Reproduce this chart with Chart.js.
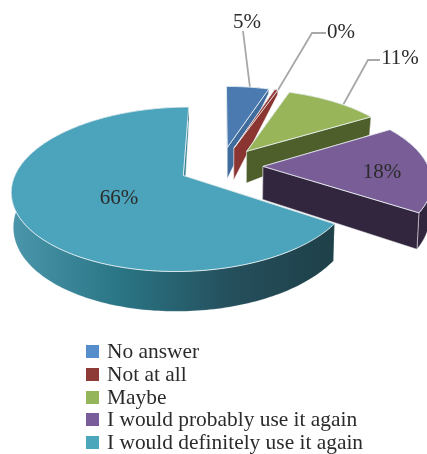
<!DOCTYPE html>
<html>
<head>
<meta charset="utf-8">
<title>Pie</title>
<script src="https://cdn.jsdelivr.net/npm/chart.js@4/dist/chart.umd.min.js"></script>
<style>
  html, body { margin: 0; background: #fff; }
  #wrap { position: relative; width: 427px; height: 454px; overflow: hidden; }
  #legend { position: absolute; left: 86px; top: 340px; margin: 0; padding: 0; list-style: none;
    font: 21.4px/22.8px "Liberation Serif", serif; color: #2b2b2b; white-space: nowrap; }
  #legend li { position: relative; padding-left: 21px; height: 22.8px; }
  #legend i { position: absolute; left: 0; top: 5px; width: 13px; height: 13px; }
</style>
</head>
<body>
<div id="wrap">
  <canvas id="pie" width="427" height="454"></canvas>
  <ul id="legend"></ul>
</div>
<script>
const categories = ['No answer', 'Not at all', 'Maybe', 'I would probably use it again', 'I would definitely use it again'];
// "Not at all" is labelled 0% but drawn as a thin sliver
const values = [5, 0.4, 11, 18, 66];
const topColors = ['#4a7ab0', '#953a37', '#98b55a', '#795d97', '#4ba4bb'];
const sideColors = ['#3f6c9c', '#8a3532', '#4f5f2b', '#32263f', '#1f4650'];
const legendColors = ['#568ecb', '#8e3a37', '#95b55b', '#795d9b', '#4ba5bb'];
const tealRimStops = [[0, '#4b96ab'], [0.33, '#2a7686'], [0.68, '#254f5c'], [1, '#1e4049']];

// camera for the tilted pie
const centerY = 166, tilt = 0.465, persp = 0.001;

function drop(y) {
  // depth of the pie seen on screen, shrinks to the back
  if (y <= 40) return 33 - 0.037 * y;
  return Math.max(5, 31.5 - 0.17 * (y - 40));
}

function project(cx, x, y, bottom) {
  const p = 1 / (1 + persp * y);
  let sx = cx + x * p;
  let sy = centerY - tilt * y * p;
  if (bottom) {
    sx = cx + (sx - cx) * 0.99;
    sy += drop(y);
  }
  return [sx, sy];
}

function slicePts(el, from, to, bottom) {
  const mid = (el.startAngle + el.endAngle) / 2 + Math.PI / 2;
  const ox = Math.sin(mid) * el.options.offset, oy = Math.cos(mid) * el.options.offset;
  const pts = [];
  const steps = Math.max(2, Math.ceil(Math.abs(to - from) / 0.02));
  for (let i = 0; i <= steps; i++) {
    const t = from + (to - from) * i / steps + Math.PI / 2;
    pts.push(project(el.x, ox + Math.sin(t) * el.outerRadius, oy + Math.cos(t) * el.outerRadius, bottom));
  }
  return pts;
}

function apex(el, bottom) {
  const mid = (el.startAngle + el.endAngle) / 2 + Math.PI / 2;
  return project(el.x, Math.sin(mid) * el.options.offset, Math.cos(mid) * el.options.offset, bottom);
}

function fillPoly(ctx, pts, fill, edge) {
  ctx.beginPath();
  pts.forEach((p, i) => i ? ctx.lineTo(p[0], p[1]) : ctx.moveTo(p[0], p[1]));
  ctx.closePath();
  ctx.fillStyle = fill;
  ctx.fill();
  ctx.strokeStyle = edge;
  ctx.lineWidth = 1;
  ctx.stroke();
}

// label text plus the leader that runs to the rim of its slice
function leader(ctx, el, bend, endFrac) {
  const a = el.startAngle + (el.endAngle - el.startAngle) * endFrac;
  const rim = slicePts(el, a, a, false)[0];
  ctx.beginPath();
  bend.forEach((p, i) => i ? ctx.lineTo(p[0], p[1]) : ctx.moveTo(p[0], p[1]));
  ctx.lineTo(rim[0], rim[1]);
  ctx.strokeStyle = '#a8a8a8';
  ctx.lineWidth = 1.8;
  ctx.stroke();
}

const labelSpots = [[247, 22], [341, 32], [400, 58], [382, 172], [119, 198]];

const pie3d = {
  id: 'pie3d',
  beforeDatasetsDraw(chart) {
    const ctx = chart.ctx;
    const arcs = chart.getDatasetMeta(0).data;

    leader(ctx, arcs[0], [[243, 31]], 0.55);
    leader(ctx, arcs[1], [[326, 33], [312, 33]], 1);
    leader(ctx, arcs[2], [[380, 60], [368, 60]], 0.62);

    arcs.forEach((el, i) => {
      const s = el.startAngle, e = el.endAngle;
      const a0 = apex(el, false), a1 = apex(el, true);
      const top0 = slicePts(el, s, s, false)[0], bot0 = slicePts(el, s, s, true)[0];
      const top1 = slicePts(el, e, e, false)[0], bot1 = slicePts(el, e, e, true)[0];
      const wallEdge = 'rgba(255,255,255,0.45)';

      let rimFill = sideColors[i];
      if (i === 4) {
        rimFill = ctx.createLinearGradient(11, 0, 334, 0);
        tealRimStops.forEach(st => rimFill.addColorStop(st[0], st[1]));
      }
      const rim = slicePts(el, s, e, false).concat(slicePts(el, s, e, true).reverse());
      const drawWalls = () => {
        fillPoly(ctx, [a0, top0, bot0, a1], sideColors[i], wallEdge);
        fillPoly(ctx, [a0, top1, bot1, a1], i === 4 ? '#3f8297' : sideColors[i], wallEdge);
      };
      // the big slice shows its rim in front of its cuts, the small ones the other way round
      if (i === 4) drawWalls();
      fillPoly(ctx, rim, rimFill, i === 4 ? 'rgba(255,255,255,0.15)' : wallEdge);
      if (i !== 4) drawWalls();

      fillPoly(ctx, [a0].concat(slicePts(el, s, e, false)), topColors[i], 'rgba(235,242,245,0.85)');
    });

    ctx.fillStyle = '#2b2b2b';
    ctx.font = '21px "Liberation Serif", serif';
    ctx.textAlign = 'center';
    ctx.textBaseline = 'middle';
    values.forEach((v, i) => {
      ctx.fillText(Math.round(v) + '%', labelSpots[i][0], labelSpots[i][1]);
    });
    return false;
  }
};

new Chart(document.getElementById('pie'), {
  type: 'pie',
  data: {
    labels: categories,
    datasets: [{ data: values, backgroundColor: topColors, borderWidth: 0, offset: 42 }]
  },
  options: {
    responsive: false,
    animation: false,
    events: [],
    rotation: 0,
    layout: { padding: { left: 35, right: 20, top: 0, bottom: 0 } },
    plugins: { legend: { display: false }, tooltip: { enabled: false } }
  },
  plugins: [pie3d]
});

document.getElementById('legend').innerHTML = categories.map((c, i) =>
  `<li><i style="background:${legendColors[i]}"></i>${c}</li>`).join('');
</script>
</body>
</html>
